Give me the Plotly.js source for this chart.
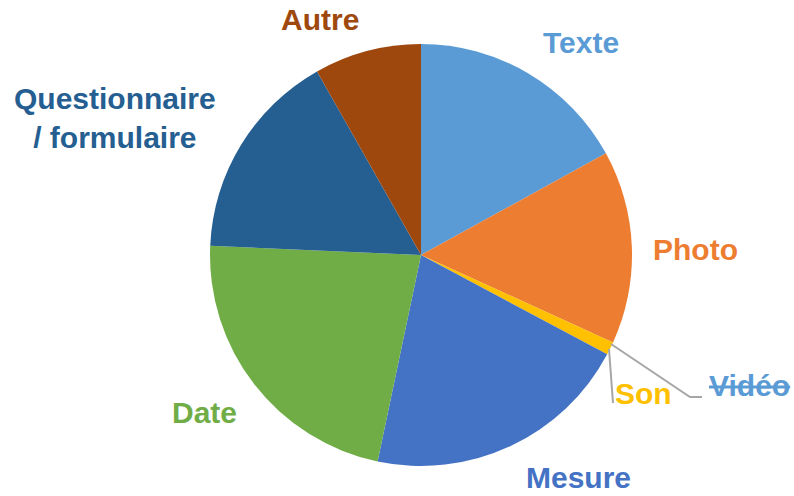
<!DOCTYPE html>
<html>
<head>
<meta charset="utf-8">
<script src="https://cdn.plot.ly/plotly-3.0.1.min.js"></script>
<style>body{margin:0;background:#fff}</style>
</head>
<body>
<div id="pie-plot" style="width:794px;height:496px"></div>
<script>
// slice data, clockwise from 12 o'clock
var labels = ['Texte', 'Photo', 'Vidéo', 'Son', 'Mesure', 'Date', 'Questionnaire / formulaire', 'Autre'];
var values = [17.0, 14.8, 0, 1.0, 20.5, 22.4, 16.1, 8.2];
var colors = ['#5B9BD5', '#ED7D31', '#A5A5A5', '#FFC000', '#4472C4', '#70AD47', '#255E91', '#9E480E'];
var labelText = ['Texte', 'Photo', '<s>Vidéo</s>', 'Son', 'Mesure', 'Date', 'Questionnaire<br>/ formulaire', 'Autre'];
var labelColors = ['#5B9BD5', '#ED7D31', '#5B9BD5', '#FFC000', '#4472C4', '#70AD47', '#255E91', '#9E480E'];
var labelPos = [[581, 43], [695, 249], [749, 385], [643, 393], [578, 477], [204, 412], [115, 118], [320, 20]];

var W = 794, H = 496;
function px(x) { return x / W; }
function py(y) { return 1 - y / H; }

var trace = {
    type: 'pie',
    labels: labels,
    values: values,
    sort: false,
    direction: 'clockwise',
    rotation: 0,
    textinfo: 'none',
    hoverinfo: 'label+percent',
    marker: {colors: colors, line: {color: '#ffffff', width: 0}},
    domain: {x: [px(210), px(632)], y: [py(466), py(44)]},
    showlegend: false
};

var annotations = labels.map(function (l, i) {
    return {
        text: '<b>' + labelText[i] + '</b>',
        x: px(labelPos[i][0]), y: py(labelPos[i][1]),
        xref: 'paper', yref: 'paper',
        xanchor: 'center', yanchor: 'middle',
        showarrow: false,
        font: {family: 'Liberation Sans, Arial, sans-serif', size: 30, color: labelColors[i]}
    };
});

// leader lines for the tiny slices
var lineStyle = {color: '#A6A6A6', width: 2};
var shapes = [
    {type: 'path', xref: 'paper', yref: 'paper', line: lineStyle,
     path: 'M ' + px(611) + ' ' + py(344) + ' L ' + px(690) + ' ' + py(397) + ' L ' + px(702) + ' ' + py(397)},
    {type: 'line', xref: 'paper', yref: 'paper', line: lineStyle,
     x0: px(609), y0: py(349), x1: px(613), y1: py(403)}
];

var layout = {
    width: W,
    height: H,
    margin: {l: 0, r: 0, t: 0, b: 0},
    paper_bgcolor: '#ffffff',
    annotations: annotations,
    shapes: shapes
};

Plotly.newPlot('pie-plot', [trace], layout, {displayModeBar: false});
</script>
</body>
</html>
